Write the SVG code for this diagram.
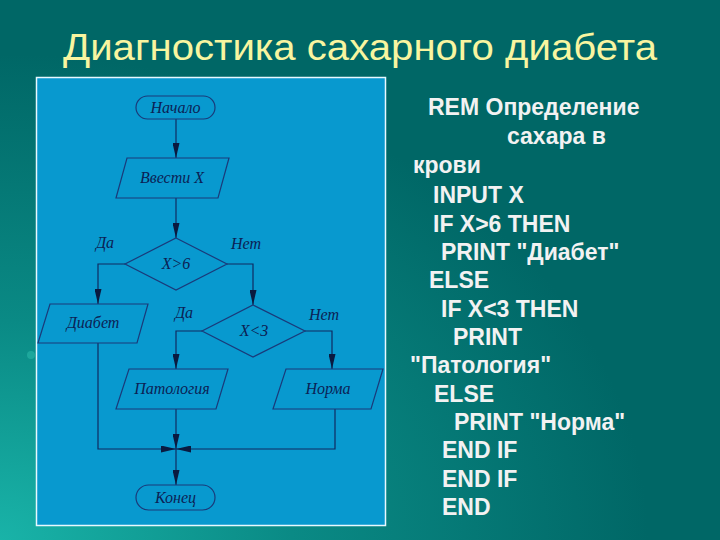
<svg xmlns="http://www.w3.org/2000/svg" width="720" height="540" viewBox="0 0 720 540">
<defs>
<radialGradient id="bg" cx="0" cy="1" r="0.9">
<stop offset="0" stop-color="#19b3a8"/>
<stop offset="0.45" stop-color="#0a8a85"/>
<stop offset="1" stop-color="#006766"/>
</radialGradient>
<marker id="ah" markerWidth="15" markerHeight="7" refX="15" refY="3.5" orient="auto" markerUnits="userSpaceOnUse">
<path d="M0,0 L15,3.5 L0,7 Z" fill="#0a1a40"/>
</marker>
<style>
.sh{fill:none;stroke:#1a3a7a;stroke-width:1.2}
.ln{fill:none;stroke:#102a60;stroke-width:1.2}
.fl{font-family:"Liberation Serif","DejaVu Serif",serif;font-style:italic;font-size:16px;fill:#0c1f55;text-anchor:middle}
.cd{font-family:"Liberation Sans",Arial,sans-serif;font-weight:bold;font-size:23px;fill:#f2f2f2}
</style>
</defs>
<rect width="720" height="540" fill="#006766"/>
<rect width="720" height="540" fill="url(#bg)"/>
<text x="63" y="60" font-family="'Liberation Sans',Arial,sans-serif" font-size="37" fill="#f8f5a0" textLength="594" lengthAdjust="spacingAndGlyphs">Диагностика сахарного диабета</text>
<rect x="36.5" y="77.5" width="349" height="448" fill="#0899cf" stroke="#e8f8ff" stroke-width="1.5"/>
<circle cx="31" cy="355" r="4" fill="#2ab8a8" opacity="0.6"/>

<g id="connectors">
<line class="ln" x1="176" y1="119" x2="176" y2="158" marker-end="url(#ah)"/>
<line class="ln" x1="176" y1="198" x2="176" y2="238" marker-end="url(#ah)"/>
<polyline class="ln" points="125,264 98,264 98,304" marker-end="url(#ah)"/>
<polyline class="ln" points="227,264 253,264 253,305" marker-end="url(#ah)"/>
<polyline class="ln" points="202,331 176,331 176,369" marker-end="url(#ah)"/>
<polyline class="ln" points="305,331 332,331 332,369" marker-end="url(#ah)"/>
<polyline class="ln" points="98,343 98,449 176,449" marker-end="url(#ah)"/>
<polyline class="ln" points="335,409 335,449 176,449" marker-end="url(#ah)"/>
<line class="ln" x1="176" y1="409" x2="176" y2="449" marker-end="url(#ah)"/>
<line class="ln" x1="176" y1="449" x2="176" y2="485" marker-end="url(#ah)"/>
<text class="fl" x="105" y="248">Да</text>
<text class="fl" x="246" y="249">Нет</text>
<text class="fl" x="184" y="318">Да</text>
<text class="fl" x="324" y="320">Нет</text>
</g>

<g id="start">
<rect class="sh" x="136" y="96" width="79" height="23" rx="11.5"/>
<text class="fl" x="175.5" y="113">Начало</text>
</g>
<g id="input">
<polygon class="sh" points="127,158 229,158 218,198 116,198"/>
<text class="fl" x="172" y="183">Ввести X</text>
</g>
<g id="cond1">
<polygon class="sh" points="176,238 227,264 176,290 125,264"/>
<text class="fl" x="176" y="269">X&gt;6</text>
</g>
<g id="diabet">
<polygon class="sh" points="50,304 148,304 137,343 38,343"/>
<text class="fl" x="93" y="328">Диабет</text>
</g>
<g id="cond2">
<polygon class="sh" points="253,305 305,331 253,357 202,331"/>
<text class="fl" x="254" y="336">X&lt;3</text>
</g>
<g id="patologiya">
<polygon class="sh" points="129,369 228,369 216,409 116,409"/>
<text class="fl" x="172" y="394">Патология</text>
</g>
<g id="norma">
<polygon class="sh" points="286,369 383,369 371,409 273,409"/>
<text class="fl" x="328" y="394">Норма</text>
</g>
<g id="end">
<rect class="sh" x="136" y="485" width="79" height="25" rx="12.5"/>
<text class="fl" x="175.5" y="503">Конец</text>
</g>

<g id="code">
<text class="cd" x="428" y="115">REM Определение</text>
<text class="cd" x="507" y="144">сахара в</text>
<text class="cd" x="413" y="173">крови</text>
<text class="cd" x="433" y="203">INPUT X</text>
<text class="cd" x="433" y="232">IF X&gt;6 THEN</text>
<text class="cd" x="441" y="260">PRINT "Диабет"</text>
<text class="cd" x="429" y="288">ELSE</text>
<text class="cd" x="441" y="317">IF X&lt;3 THEN</text>
<text class="cd" x="453" y="345">PRINT</text>
<text class="cd" x="410" y="373">"Патология"</text>
<text class="cd" x="434" y="402">ELSE</text>
<text class="cd" x="454" y="430">PRINT "Норма"</text>
<text class="cd" x="442" y="458">END IF</text>
<text class="cd" x="442" y="487">END IF</text>
<text class="cd" x="442" y="515">END</text>
</g>
</svg>
